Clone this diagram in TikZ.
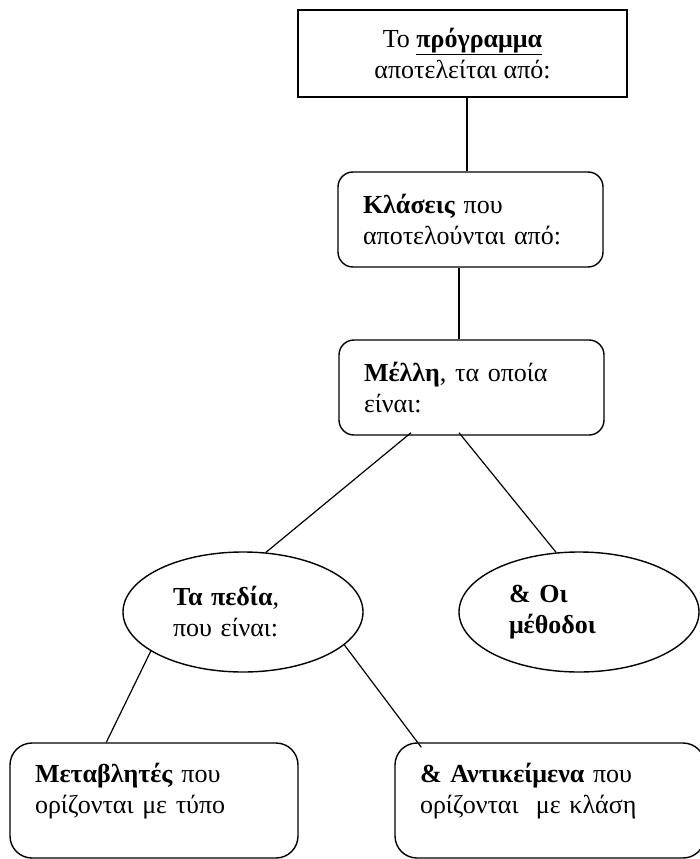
\documentclass[tikz,border=0pt]{standalone}
\usepackage{fontspec}
\setmainfont{Liberation Serif}
\usetikzlibrary{shapes.geometric}

\begin{document}
\begin{tikzpicture}[x=1pt, y=-1pt,
    boxText/.style={font=\fontsize{26}{31}\selectfont, draw=borderColour, line width=1.4pt},
    roundBox/.style={boxText, rounded corners=15pt, align=left, inner xsep=25pt, inner ysep=0pt},
    ovalBox/.style={boxText, ellipse, minimum width=240pt, minimum height=120pt, text width=140pt, align=left, inner sep=0pt},
    linkLine/.style={draw=borderColour, line width=1.2pt}]
    % Define colours
    \definecolor{borderColour}{HTML}{000000}

  % Page frame
  \clip (0,0) rectangle (700,859);

  % The program box at the top
  \node[boxText, line width=1.7pt, align=center, minimum width=329pt, minimum height=87pt] (top) at (462.5,53.5)
    {Το \textbf{\underline{πρόγραμμα}}\\ αποτελείται από:};

  % Classes and members
  \node[roundBox, text width=215pt, minimum height=95pt] (kla) at (470.5,219.5)
    {\textbf{Κλάσεις} που\\ αποτελούνται από:};
  \node[roundBox, text width=215pt, minimum height=95pt] (mel) at (471.5,387.5)
    {\textbf{Μέλλη}, τα οποία\\ είναι:};

  % The two kinds of members
  \node[ovalBox] (pedia) at (243,612) {\textbf{Τα πεδία},\\ που είναι:};
  \node[ovalBox] (metho) at (579,612) {\textbf{\& Οι}\\ \textbf{μέθοδοι}};

  % The two kinds of fields, text kept near the top
  \node[roundBox, rounded corners=22pt, text width=238pt, text depth=55pt, minimum height=115pt] (metab) at (154,800.5)
    {\textbf{Μεταβλητές} που\\ ορίζονται με τύπο};
  \node[roundBox, rounded corners=22pt, text width=260pt, text depth=55pt, minimum height=115pt] (antik) at (550,800.5)
    {\textbf{\& Αντικείμενα} που\\ ορίζονται \ με κλάση};

  % Draw the links
  \draw[linkLine] ([xshift=4.5pt]top.south) -- ([xshift=-3.5pt]kla.north);
  \draw[linkLine] ([xshift=-11.5pt]kla.south) -- ([xshift=-12.5pt]mel.north);
  \draw[linkLine] ([xshift=-60.5pt,yshift=3pt]mel.south) -- (pedia.69);
  \draw[linkLine] ([xshift=-12.5pt,yshift=3pt]mel.south) -- (metho.111);
  \draw[linkLine] (pedia.203) -- ([xshift=97pt]metab.north west);
  \draw[linkLine] (pedia.342) -- ([xshift=27pt,yshift=-5pt]antik.north west);

\end{tikzpicture}
\end{document}
